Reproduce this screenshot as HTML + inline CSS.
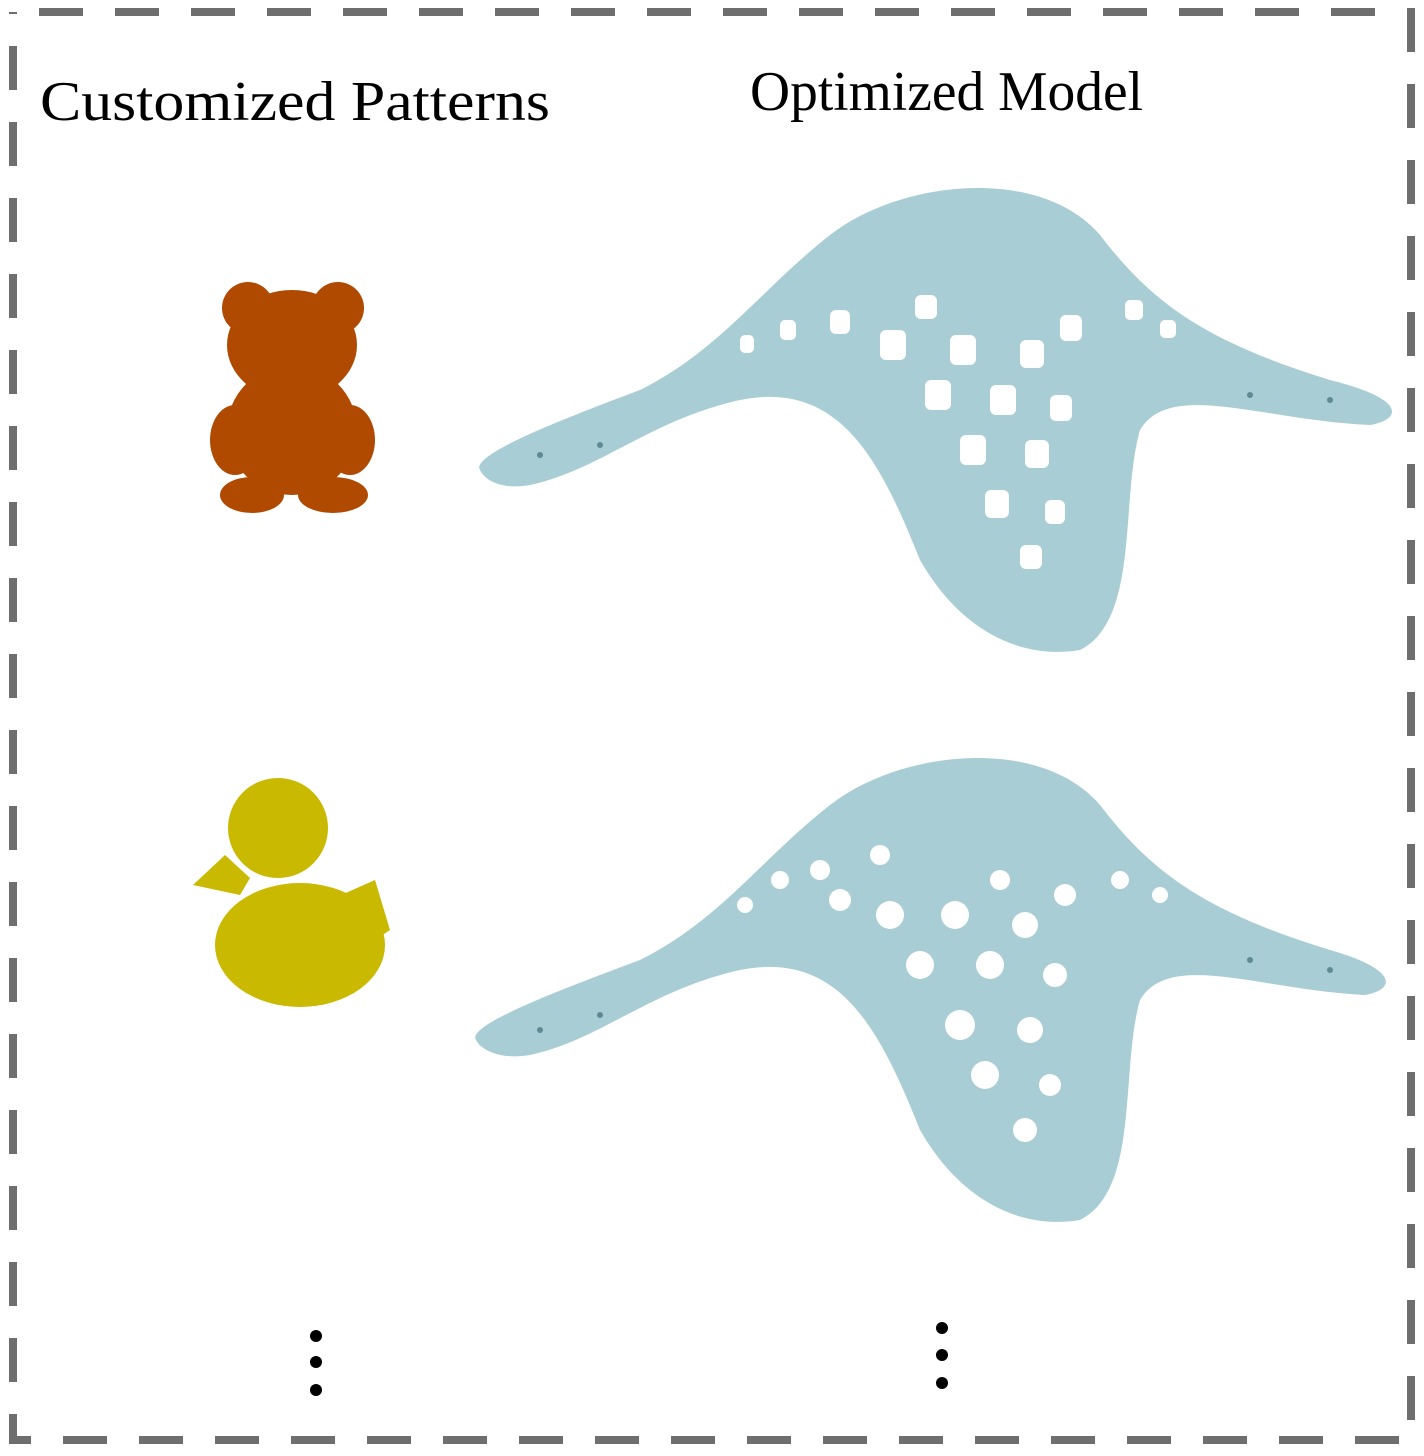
<!DOCTYPE html>
<html><head><meta charset="utf-8"><style>
html,body{margin:0;padding:0;background:#fff;}
svg{display:block}
</style></head><body>
<svg width="1424" height="1456" viewBox="0 0 1424 1456" xmlns="http://www.w3.org/2000/svg">
<rect width="1424" height="1456" fill="#fff"/>
<rect x="13" y="12" width="1398" height="1428" fill="none" stroke="#6e6e6e" stroke-width="8" stroke-dasharray="44 32" stroke-dashoffset="-26"/>
<text x="40" y="120" font-family="Liberation Serif, serif" font-size="56" fill="#000" textLength="510" lengthAdjust="spacingAndGlyphs">Customized Patterns</text>
<text x="750" y="110" font-family="Liberation Serif, serif" font-size="56" fill="#000" textLength="393" lengthAdjust="spacingAndGlyphs">Optimized Model</text>

<!-- bear -->
<g fill="#b04a00">
<circle cx="248" cy="308" r="26"/><circle cx="338" cy="308" r="26"/>
<ellipse cx="292" cy="345" rx="65" ry="55"/>
<ellipse cx="292" cy="430" rx="65" ry="65"/>
<ellipse cx="235" cy="440" rx="25" ry="35"/><ellipse cx="350" cy="440" rx="25" ry="35"/>
<ellipse cx="252" cy="495" rx="32" ry="18"/><ellipse cx="333" cy="495" rx="35" ry="18"/>
</g>
<!-- duck -->
<g fill="#c9b900">
<circle cx="278" cy="828" r="50"/>
<path d="M193 885 L225 855 L250 878 L240 895 Z"/>
<ellipse cx="300" cy="945" rx="85" ry="62"/>
<path d="M330 900 L375 880 L390 930 L360 950 Z"/>
</g>

<!-- shells -->
<g fill="#a9cdd4">
<path d="M480 470 C470 455 560 420 640 390 C720 350 760 290 830 235 C900 180 1040 165 1100 235 C1150 300 1200 340 1330 380 C1410 400 1400 420 1370 425 C1260 420 1170 380 1140 430 C1120 500 1140 620 1080 650 C1020 660 960 630 920 560 C880 460 840 380 740 400 C650 420 600 470 530 485 C500 490 485 480 480 470 Z"/>
<path d="M476 1040 C466 1025 560 990 640 960 C720 920 760 860 830 805 C900 750 1040 735 1100 805 C1150 870 1200 910 1330 950 C1400 970 1395 990 1365 995 C1260 990 1170 950 1140 1000 C1120 1070 1140 1190 1080 1220 C1020 1230 960 1200 920 1130 C880 1030 840 950 740 970 C650 990 600 1040 530 1055 C500 1060 481 1050 476 1040 Z"/>
</g>
<g fill="#fff">
<rect x="880" y="330" width="26" height="30" rx="6"/><rect x="950" y="335" width="26" height="30" rx="6"/><rect x="1020" y="340" width="24" height="28" rx="6"/>
<rect x="925" y="380" width="26" height="30" rx="6"/><rect x="990" y="385" width="26" height="30" rx="6"/><rect x="1050" y="395" width="22" height="26" rx="6"/>
<rect x="960" y="435" width="26" height="30" rx="6"/><rect x="1025" y="440" width="24" height="28" rx="6"/>
<rect x="985" y="490" width="24" height="28" rx="6"/><rect x="1045" y="500" width="20" height="24" rx="6"/>
<rect x="1020" y="545" width="22" height="24" rx="6"/><rect x="830" y="310" width="20" height="24" rx="6"/>
<rect x="1060" y="315" width="22" height="26" rx="6"/><rect x="915" y="295" width="22" height="24" rx="6"/>
<rect x="780" y="320" width="16" height="20" rx="5"/><rect x="740" y="335" width="14" height="18" rx="5"/>
<rect x="1125" y="300" width="18" height="20" rx="5"/><rect x="1160" y="320" width="16" height="18" rx="5"/>
</g>
<g fill="#fff">
<circle cx="890" cy="915" r="14"/><circle cx="955" cy="915" r="14"/><circle cx="1025" cy="925" r="13"/>
<circle cx="920" cy="965" r="14"/><circle cx="990" cy="965" r="14"/><circle cx="1055" cy="975" r="12"/>
<circle cx="960" cy="1025" r="15"/><circle cx="1030" cy="1030" r="13"/>
<circle cx="985" cy="1075" r="14"/><circle cx="1050" cy="1085" r="11"/>
<circle cx="1025" cy="1130" r="12"/><circle cx="840" cy="900" r="11"/><circle cx="820" cy="870" r="10"/>
<circle cx="880" cy="855" r="10"/><circle cx="1000" cy="880" r="10"/><circle cx="1065" cy="895" r="11"/>
<circle cx="780" cy="880" r="9"/><circle cx="745" cy="905" r="8"/><circle cx="1120" cy="880" r="9"/><circle cx="1160" cy="895" r="8"/>
</g>
<g fill="#5d8a94">
<circle cx="540" cy="455" r="3"/><circle cx="600" cy="445" r="3"/><circle cx="1250" cy="395" r="3"/><circle cx="1330" cy="400" r="3"/>
<circle cx="540" cy="1030" r="3"/><circle cx="600" cy="1015" r="3"/><circle cx="1250" cy="960" r="3"/><circle cx="1330" cy="970" r="3"/>
</g>

<g fill="#000">
<circle cx="316" cy="1336" r="6"/><circle cx="316" cy="1362" r="6"/><circle cx="316" cy="1390" r="6"/>
<circle cx="942" cy="1328" r="6"/><circle cx="942" cy="1355" r="6"/><circle cx="942" cy="1383" r="6"/>
</g>
</svg>
</body></html>
